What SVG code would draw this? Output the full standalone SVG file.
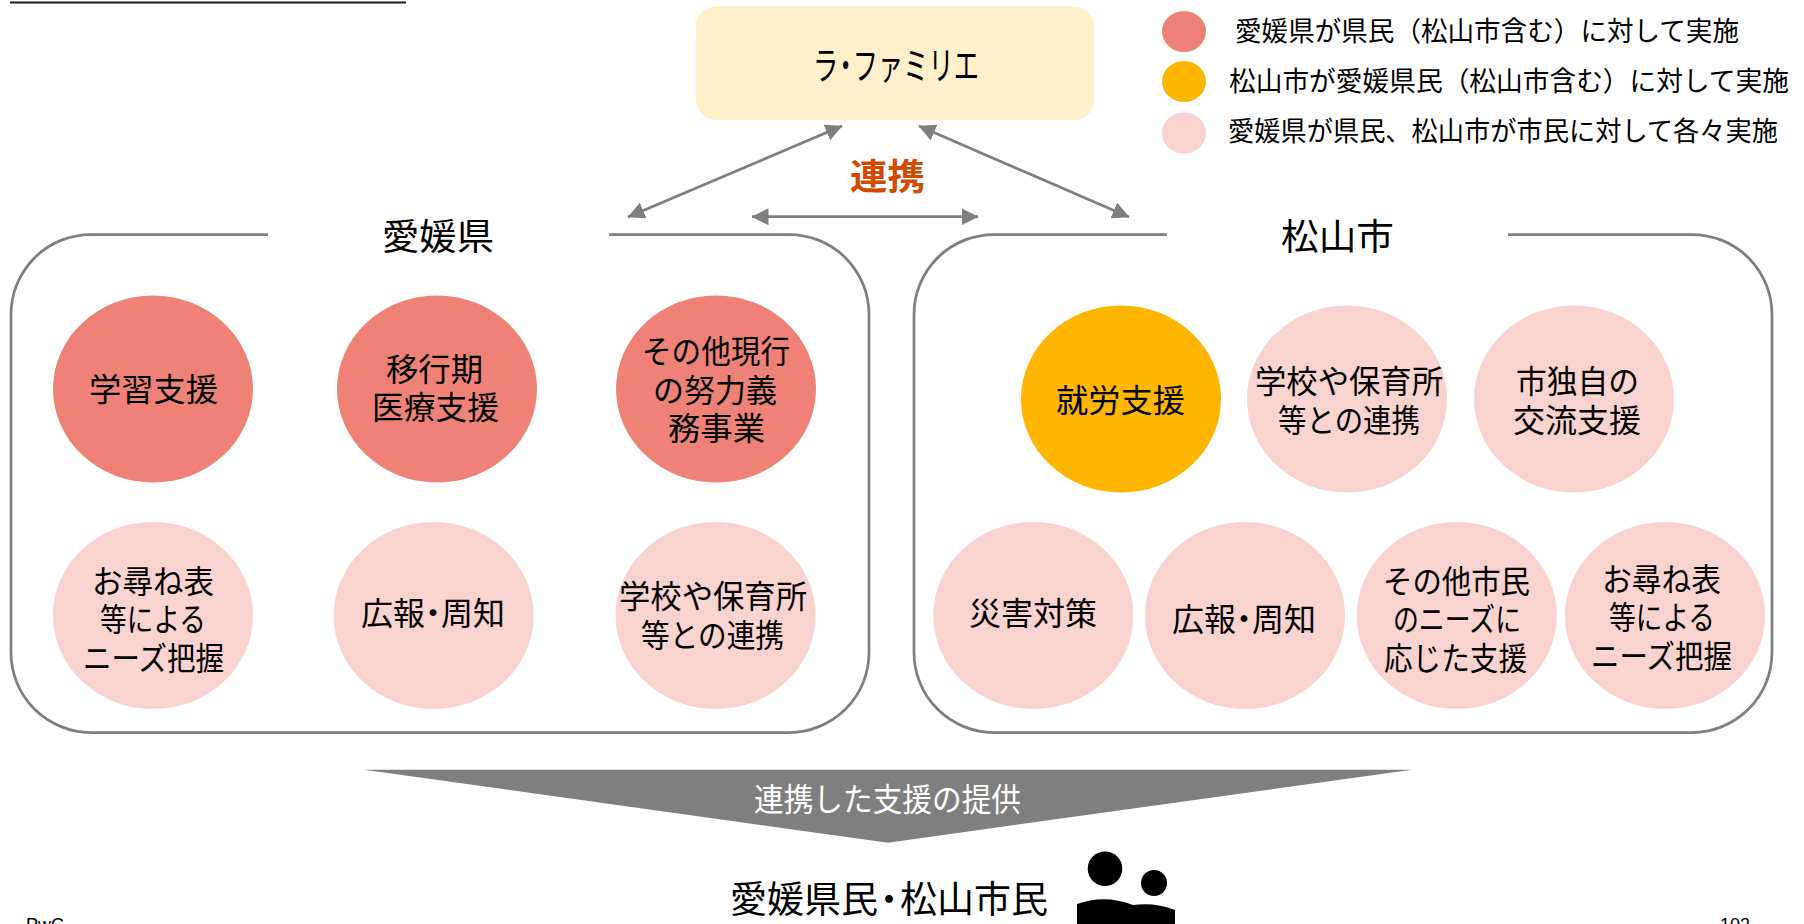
<svg xmlns="http://www.w3.org/2000/svg" width="1804" height="924" viewBox="0 0 1804 924">
<style>
text{font-family:"Noto Sans CJK JP","Noto Sans",sans-serif;fill:#000;font-size:32px}
.t{font-size:36px}
.l{font-size:27px}
.lat{font-family:"Liberation Sans",Arial,sans-serif;font-size:18px}
.red{fill:#EE8277}.amb{fill:#FFB600}.pnk{fill:#F8D3CF}
.panel{fill:none;stroke:#7F7F7F;stroke-width:2.75}
.arr{fill:none;stroke:#7F7F7F;stroke-width:2.75;marker-start:url(#ah);marker-end:url(#ah)}
</style>
<defs>
<marker id="ah" viewBox="0 0 17 17" markerUnits="userSpaceOnUse" markerWidth="17" markerHeight="17" refX="16.5" refY="8.5" orient="auto-start-reverse"><path d="M0 0L17 8.5L0 17z" fill="#7F7F7F"/></marker>
</defs>
<rect width="1804" height="924" fill="#fff"/>
<line x1="10" y1="2.5" x2="406" y2="2.5" stroke="#1a1a1a" stroke-width="2"/>

<g id="connectors">
<line class="arr" x1="842" y1="126" x2="628" y2="217"/>
<line class="arr" x1="752" y1="216.7" x2="978" y2="216.7"/>
<line class="arr" x1="919" y1="126" x2="1129" y2="217"/>
</g>

<g id="node-lafamilie">
<rect x="696" y="6.5" width="398" height="113.5" rx="20" fill="#FFF0CC"/>
<text x="813" y="79" style="font-size:38px" textLength="166" lengthAdjust="spacingAndGlyphs">ラ<tspan dx="-8">・</tspan><tspan dx="-8">ファミリエ</tspan></text>
</g>
<text id="label-renkei" class="t" x="850" y="190" textLength="75" lengthAdjust="spacingAndGlyphs" font-weight="700" style="fill:#D04A02">連携</text>

<g id="legend">
<ellipse class="red" cx="1184" cy="31.5" rx="22" ry="20.5"/>
<ellipse class="amb" cx="1184" cy="81.5" rx="22" ry="20.5"/>
<ellipse class="pnk" cx="1184" cy="133" rx="22" ry="20.5"/>
<text class="l" x="1235" y="41" textLength="504" lengthAdjust="spacingAndGlyphs">愛媛県が県民（松山市含む）に対して実施</text>
<text class="l" x="1229" y="91" textLength="560" lengthAdjust="spacingAndGlyphs">松山市が愛媛県民（松山市含む）に対して実施</text>
<text class="l" x="1228" y="141" textLength="550" lengthAdjust="spacingAndGlyphs">愛媛県が県民、松山市が市民に対して各々実施</text>
</g>

<g id="panel-ehime">
<path class="panel" d="M268 234.5H91A80 80 0 0 0 11 314.5V652.5A80 80 0 0 0 91 732.5H789A80 80 0 0 0 869 652.5V314.5A80 80 0 0 0 789 234.5H609"/>
<text class="t" x="382" y="250" textLength="112" lengthAdjust="spacingAndGlyphs">愛媛県</text>
</g>
<g id="panel-matsuyama">
<path class="panel" d="M1167 234.5H994A80 80 0 0 0 914 314.5V652.5A80 80 0 0 0 994 732.5H1692A80 80 0 0 0 1772 652.5V314.5A80 80 0 0 0 1692 234.5H1508"/>
<text class="t" x="1281" y="250" textLength="113" lengthAdjust="spacingAndGlyphs">松山市</text>
</g>

<g id="node-gakushu"><ellipse class="red" cx="153" cy="389" rx="100" ry="93.5"/>
<text x="89" y="401" textLength="129" lengthAdjust="spacingAndGlyphs">学習支援</text></g>
<g id="node-ikoki"><ellipse class="red" cx="437" cy="389" rx="100" ry="93.5"/>
<text x="386" y="381" textLength="97" lengthAdjust="spacingAndGlyphs">移行期</text>
<text x="372" y="419" textLength="127" lengthAdjust="spacingAndGlyphs">医療支援</text></g>
<g id="node-sonota"><ellipse class="red" cx="716" cy="389" rx="100" ry="93.5"/>
<text x="642" y="363" textLength="148" lengthAdjust="spacingAndGlyphs">その他現行</text>
<text x="653" y="402" textLength="124" lengthAdjust="spacingAndGlyphs">の努力義</text>
<text x="668" y="440" textLength="97" lengthAdjust="spacingAndGlyphs">務事業</text></g>
<g id="node-otazune-e"><ellipse class="pnk" cx="153" cy="615.5" rx="100" ry="93.5"/>
<text x="92" y="593" textLength="122" lengthAdjust="spacingAndGlyphs">お尋ね表</text>
<text x="100" y="631" textLength="106" lengthAdjust="spacingAndGlyphs">等による</text>
<text x="83" y="670" textLength="141" lengthAdjust="spacingAndGlyphs">ニーズ把握</text></g>
<g id="node-koho-e"><ellipse class="pnk" cx="433.6" cy="615.5" rx="100" ry="93.5"/>
<text x="361" y="625">広報<tspan dx="-8">・</tspan><tspan dx="-8">周知</tspan></text></g>
<g id="node-gakko-e"><ellipse class="pnk" cx="715.6" cy="615.5" rx="100" ry="93.5"/>
<text x="619" y="608" textLength="188" lengthAdjust="spacingAndGlyphs">学校や保育所</text>
<text x="641" y="647" textLength="143" lengthAdjust="spacingAndGlyphs">等との連携</text></g>

<g id="node-shuro"><ellipse class="amb" cx="1121" cy="399" rx="100" ry="93.5"/>
<text x="1056" y="412" textLength="129" lengthAdjust="spacingAndGlyphs">就労支援</text></g>
<g id="node-gakko-m"><ellipse class="pnk" cx="1347" cy="399" rx="100" ry="93.5"/>
<text x="1255" y="393" textLength="188" lengthAdjust="spacingAndGlyphs">学校や保育所</text>
<text x="1278" y="432" textLength="142" lengthAdjust="spacingAndGlyphs">等との連携</text></g>
<g id="node-dokuji"><ellipse class="pnk" cx="1574" cy="399" rx="100" ry="93.5"/>
<text x="1516" y="393" textLength="123" lengthAdjust="spacingAndGlyphs">市独自の</text>
<text x="1513" y="432" textLength="128" lengthAdjust="spacingAndGlyphs">交流支援</text></g>
<g id="node-saigai"><ellipse class="pnk" cx="1033.3" cy="615.5" rx="100" ry="93.5"/>
<text x="969" y="625" textLength="128" lengthAdjust="spacingAndGlyphs">災害対策</text></g>
<g id="node-koho-m"><ellipse class="pnk" cx="1245" cy="615.5" rx="100" ry="93.5"/>
<text x="1172" y="631">広報<tspan dx="-8">・</tspan><tspan dx="-8">周知</tspan></text></g>
<g id="node-sonota-m"><ellipse class="pnk" cx="1456.8" cy="615.5" rx="100" ry="93.5"/>
<text x="1383" y="593" textLength="147" lengthAdjust="spacingAndGlyphs">その他市民</text>
<text x="1393" y="631" textLength="128" lengthAdjust="spacingAndGlyphs">のニーズに</text>
<text x="1384" y="670" textLength="143" lengthAdjust="spacingAndGlyphs">応じた支援</text></g>
<g id="node-otazune-m"><ellipse class="pnk" cx="1665" cy="615.5" rx="100" ry="93.5"/>
<text x="1602" y="591" textLength="119" lengthAdjust="spacingAndGlyphs">お尋ね表</text>
<text x="1609" y="629" textLength="106" lengthAdjust="spacingAndGlyphs">等による</text>
<text x="1591" y="668" textLength="141" lengthAdjust="spacingAndGlyphs">ニーズ把握</text></g>

<g id="node-provide">
<path d="M364 769.7H1412L888 842.7z" fill="#7F7F7F"/>
<text x="754" y="811" textLength="267" lengthAdjust="spacingAndGlyphs" style="fill:#fff">連携した支援の提供</text>
</g>
<g id="node-citizens">
<text x="730" y="913" style="font-size:37px">愛媛県民<tspan dx="-7.5">・</tspan><tspan dx="-7.5">松山市民</tspan></text>
<circle cx="1105" cy="868.7" r="17.3"/>
<circle cx="1154" cy="883" r="13"/>
<path d="M1077 904Q1105 894 1133 905Q1155 902 1175 910V924H1077z"/>
</g>
<text class="lat" x="26" y="931">PwC</text>
<text class="lat" x="1720" y="931">102</text>
</svg>
